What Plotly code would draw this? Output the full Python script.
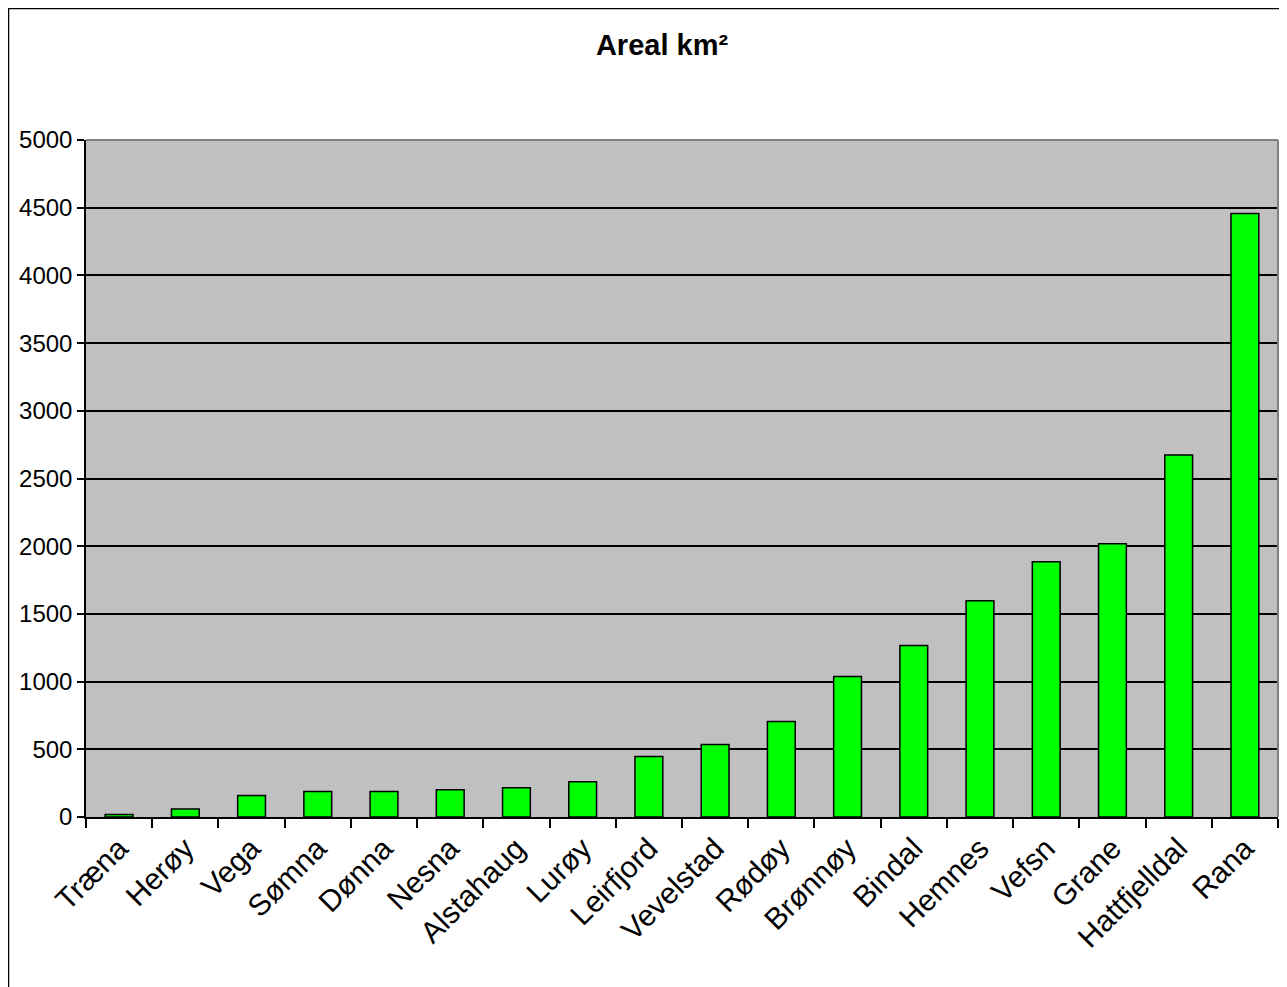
import plotly.graph_objects as go

categories = ["Træna", "Herøy", "Vega", "Sømna", "Dønna", "Nesna", "Alstahaug", "Lurøy",
              "Leirfjord", "Vevelstad", "Rødøy", "Brønnøy", "Bindal", "Hemnes", "Vefsn",
              "Grane", "Hattfjelldal", "Rana"]
areal = [18, 60, 158, 188, 188, 202, 216, 260, 446, 535, 706, 1038, 1266, 1598, 1886, 2018, 2673, 4458]
y_ticks = [0, 500, 1000, 1500, 2000, 2500, 3000, 3500, 4000, 4500, 5000]

W, H = 1279, 979
L, R, T, B = 78, 9, 132, 170
pw, ph = W - L - R, H - T - B

def px(x):
    return (x - L) / pw

def py(y):
    return (H - B - y) / ph

fig = go.Figure(go.Bar(
    x=categories, y=areal,
    marker=dict(color="#00FF00", line=dict(color="black", width=1.5)),
))

fig.update_layout(
    width=W, height=H,
    margin=dict(l=L, r=R, t=T, b=B),
    paper_bgcolor="white", plot_bgcolor="#C0C0C0",
    bargap=0.58, showlegend=False,
    font=dict(family="Liberation Sans, Arial, sans-serif", size=24, color="black"),
    title=dict(text="<b>Areal km²</b>", x=654 / W, xanchor="center", y=1 - 37 / H, yanchor="middle",
               font=dict(size=29, color="black")),
    shapes=[
        dict(type="line", xref="paper", yref="paper", x0=px(0.5), x1=px(0.5), y0=py(0), y1=py(1000),
             line=dict(color="black", width=1.5)),
        dict(type="line", xref="paper", yref="paper", x0=px(0), x1=px(1300), y0=py(0.5), y1=py(0.5),
             line=dict(color="black", width=1.5)),
        dict(type="line", xref="paper", yref="paper", x0=0, x1=1, y0=1, y1=1,
             line=dict(color="#808080", width=2)),
        dict(type="line", xref="paper", yref="paper", x0=1, x1=1, y0=0, y1=1,
             line=dict(color="#808080", width=2)),
    ],
)

fig.update_xaxes(
    type="category", tickangle=-45, tickson="boundaries",
    ticks="outside", ticklen=9, tickcolor="black", tickwidth=1.5,
    showline=True, linecolor="black", linewidth=1.5, showgrid=False,
    tickfont=dict(size=30),
)
fig.update_yaxes(
    range=[0, 5000], tickvals=y_ticks, ticks="outside", ticklen=7, tickcolor="black",
    tickwidth=1.5, showline=True, linecolor="black", linewidth=1.5,
    showgrid=True, gridcolor="black", gridwidth=1.5, zeroline=False,
    tickfont=dict(size=24),
)

fig.write_html("out.html")
